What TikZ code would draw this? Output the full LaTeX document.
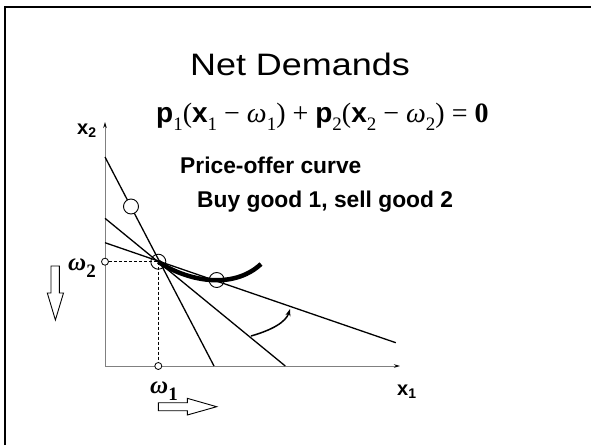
\documentclass[tikz,border=0pt]{standalone}
\usepackage{fontspec}
\setmainfont{Liberation Serif}
\setsansfont{Liberation Sans}
\usetikzlibrary{arrows.meta}
\tikzset{
    slide/.style     = {x=1pt, y=-1pt},
    frame/.style     = {line width=2pt},
    axis/.style      = {draw=gray, line width=1pt,
                        -{Stealth[length=6pt, width=3.5pt, black]}},
    budget/.style    = {line width=1.3pt},
    guide/.style     = {line width=0.9pt, dash pattern=on 3pt off 2pt},
    bundle/.style    = {circle, draw, line width=0.9pt, fill=white,
                        minimum size=15pt, inner sep=0pt},
    tickdot/.style   = {circle, draw, line width=0.8pt, fill=white,
                        minimum size=7pt, inner sep=0pt},
    offer/.style     = {line width=4.5pt},
    turn/.style      = {line width=1.5pt, -{Stealth[length=7pt, width=5pt]}},
    hollow/.style    = {draw, line width=0.9pt, fill=white},
    heading/.style   = {font=\sffamily\fontsize{31}{36}\selectfont,
                        inner sep=0pt, anchor=base},
    caption/.style   = {font=\sffamily\bfseries\fontsize{22.8}{27}\selectfont,
                        inner sep=0pt, anchor=base west},
    eq/.style        = {font=\fontsize{28}{32}\selectfont,
                        inner sep=0pt, anchor=base west},
    axlbl/.style     = {font=\sffamily\bfseries\fontsize{20}{24}\selectfont,
                        inner sep=0pt},
    wlbl/.style      = {font=\bfseries\itshape\fontsize{25}{30}\selectfont,
                        inner sep=0pt}
}
\newcommand{\sfb}[1]{{\sffamily\bfseries #1}}
\newcommand{\lowsub}[1]{\raisebox{-0.3em}{\fontsize{19}{21}\selectfont\upshape #1}}
\newcommand{\opsp}{\hspace{7pt}}

\begin{document}
\begin{tikzpicture}[slide]
\useasboundingbox (0,0) rectangle (591,445);

% ================= Slide frame =================
\draw[frame] (5,445) -- (5,7) -- (591,7);

% ================= Texts =================
\node[heading] (title) at (300,75) {\scalebox{1.16}[1]{Net Demands}};
\node[eq] (budgeteq) at (156,122)
    {\sfb{p}\lowsub{1}(\sfb{x}\lowsub{1}\opsp−\opsp\textit{ω}\lowsub{1})\opsp+\opsp\sfb{p}\lowsub{2}(\sfb{x}\lowsub{2}\opsp−\opsp\textit{ω}\lowsub{2})\opsp=\opsp\textbf{0}};
\node[caption] (pocurve) at (180,173) {Price-offer curve};
\node[caption] (tradedir) at (197,207) {Buy good 1, sell good 2};

% ================= Axes =================
\coordinate (O) at (105,366);
\coordinate (ytop) at (105,122);
\coordinate (xend) at (400,366);
\draw[axis] (O) -- (ytop);
\draw[axis] (O) -- (xend);
\node[axlbl, anchor=base west] (x2lbl) at (77,134) {x\textsubscript{2}};
\node[axlbl, anchor=base west] (x1lbl) at (397,395) {x\textsubscript{1}};

% ================= Endowment and tangency =================
\node[bundle, fill=none] (E) at (158.3,261.7) {};
\node[bundle, fill=none] (T) at (216.7,280) {};
\node[tickdot] (w2dot) at (105,261.7) {};
\node[tickdot] (w1dot) at (158.3,366) {};
\draw[guide] (w2dot) -- (E.center);
\draw[guide] (E.center) -- (w1dot);
\node[wlbl, anchor=base east] (w2lbl) at (96,270) {ω\lowsub{\bfseries 2}};
\node[wlbl, anchor=base west] (w1lbl) at (150,393) {ω\lowsub{\bfseries 1}};

% ================= Budget lines =================
\coordinate (s1) at (105,157);    \coordinate (s2) at (214,366);
\coordinate (m1) at (105,218.3);  \coordinate (m2) at (285.3,366);
\coordinate (f1) at (105,242.7);  \coordinate (f2) at (395.8,342.7);
\draw[budget] (s1) -- (s2);
\draw[budget] (m1) -- (m2);
\draw[budget] (f1) -- (f2);
\node[bundle] (A) at (131,206.5) {};

% ================= Price-offer curve =================
\draw[offer] (E.center) .. controls (185,280) and (232,291) .. (261,264);

% ================= Rotation of the budget line =================
\coordinate (r1) at (251,336);
\coordinate (r2) at (290,309);
\draw[turn] (r1) .. controls (272,330) and (286,322) .. (r2);

% ================= Hollow direction arrows =================
\draw[hollow] (51,266) -- (59.3,266) -- (59.3,293) -- (63.5,293)
    -- (55.4,320) -- (47.3,293) -- (51,293) -- cycle;
\draw[hollow] (158.3,402.7) -- (187.3,402.7) -- (187.3,398.3)
    -- (216.7,406.7) -- (187.3,415) -- (187.3,410.7) -- (158.3,410.7) -- cycle;

\end{tikzpicture}
\end{document}
